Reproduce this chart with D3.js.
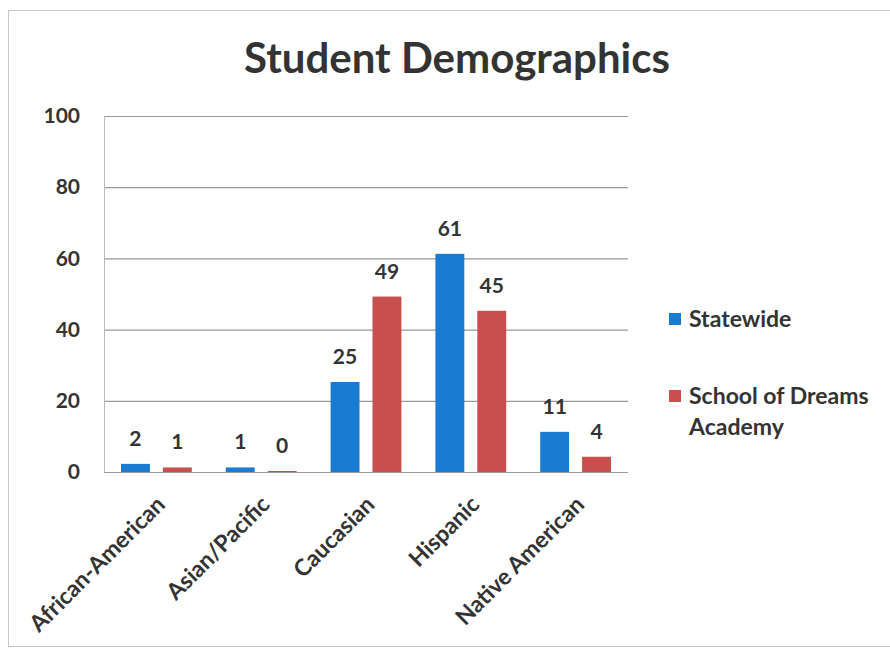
<!DOCTYPE html>
<html><head><meta charset="utf-8">
<script src="https://cdn.jsdelivr.net/npm/d3@7"></script>
<style>body{margin:0;background:#fff}svg{display:block}</style>
</head><body>
<script>
const categories = ["African-American","Asian/Pacific","Caucasian","Hispanic","Native American"];
const seriesNames = ["Statewide","School of Dreams Academy"];
const statewide = [2,1,25,61,11];
const school = [1,0,49,45,4];
const yTicks = [0,20,40,60,80,100];
const colors = ["#1a7bd2","#c94f4f"];

const W=890,H=653;
const svg=d3.select("body").append("svg").attr("width",W).attr("height",H);
const font="Lato, 'Open Sans', sans-serif";
const txt="#333";

svg.append("rect").attr("x",8.5).attr("y",10.5).attr("width",W).attr("height",636)
  .attr("fill","none").attr("stroke","#c8c8c8");

const L=104,R=628,T=116,B=472;
const x0=d3.scaleBand().domain(categories).range([L,R]).padding(0);
const x1=d3.scaleBand().domain(seriesNames).range([17,x0.bandwidth()-17]).paddingInner(0.31).paddingOuter(0);
const y=d3.scaleLinear().domain([0,100]).range([B,T]);

svg.append("text").attr("x",457).attr("y",73).attr("text-anchor","middle")
  .attr("font-family",font).attr("font-weight","bold").attr("font-size",42).attr("fill",txt)
  .text("Student Demographics");

// gridlines
svg.append("g").selectAll("line").data(yTicks).join("line")
  .attr("x1",L).attr("x2",R).attr("y1",d=>y(d)+0.5).attr("y2",d=>y(d)+0.5)
  .attr("stroke","#9a9a9a").attr("stroke-width",1.2);
svg.append("line").attr("x1",L+0.5).attr("x2",L+0.5).attr("y1",T).attr("y2",B).attr("stroke","#bbb");

// y axis labels
const yAxis=d3.axisLeft(y).tickValues(yTicks).tickSize(0).tickPadding(0);
const gy=svg.append("g").attr("transform",`translate(${L-24},0)`).call(yAxis);
gy.select(".domain").remove();
gy.selectAll("text").attr("font-family",font).attr("font-weight","bold").attr("font-size",21).attr("fill",txt);

const data=categories.map((c,i)=>({cat:c,vals:[statewide[i],school[i]]}));
const g=svg.append("g");
const grp=g.selectAll("g").data(data).join("g").attr("transform",d=>`translate(${x0(d.cat)},0)`);
grp.selectAll("rect").data(d=>d.vals.map((v,k)=>({k,v}))).join("rect")
  .attr("x",d=>x1(seriesNames[d.k])).attr("width",x1.bandwidth())
  .attr("y",d=>y(d.v)-1).attr("height",d=>B-y(d.v)+1)
  .attr("fill",d=>colors[d.k]);
grp.selectAll("text").data(d=>d.vals.map((v,k)=>({k,v}))).join("text")
  .attr("x",d=>x1(seriesNames[d.k])+x1.bandwidth()/2)
  .attr("y",d=>y(d.v)-19).attr("text-anchor","middle")
  .attr("font-family",font).attr("font-weight","bold").attr("font-size",21).attr("fill",txt)
  .text(d=>d.v);

// x axis labels
const gx=svg.append("g").attr("transform",`translate(0,${B})`)
  .call(d3.axisBottom(x0).tickSize(0).tickPadding(0));
gx.select(".domain").remove();
gx.selectAll("text")
  .attr("font-family",font).attr("font-weight","bold").attr("font-size",23).attr("fill",txt)
  .attr("text-anchor","end").attr("dy",0)
  .attr("transform","translate(10,34) rotate(-45)");

// legend
const leg=svg.append("g");
const legItems=[{name:["Statewide"],y:319},{name:["School of Dreams","Academy"],y:396}];
legItems.forEach((it,i)=>{
  leg.append("rect").attr("x",669).attr("y",it.y-6).attr("width",12).attr("height",12).attr("fill",colors[i]);
  const t=leg.append("text").attr("x",689).attr("y",it.y+8)
    .attr("font-family",font).attr("font-weight","bold").attr("font-size",23).attr("fill",txt);
  it.name.forEach((n,j)=>t.append("tspan").attr("x",689).attr("dy",j?31:0).text(n));
});
</script>
</body></html>
